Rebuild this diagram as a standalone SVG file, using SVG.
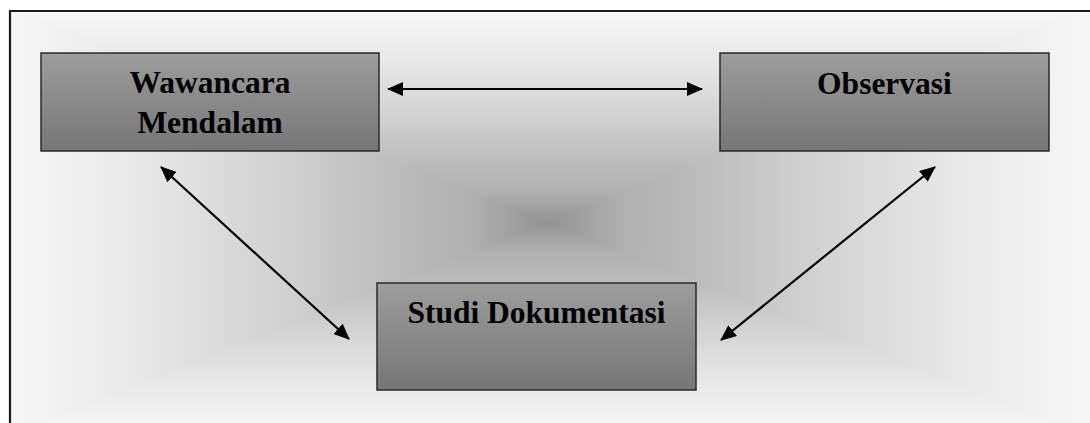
<svg xmlns="http://www.w3.org/2000/svg" width="1090" height="423" viewBox="0 0 1090 423">
  <defs>
    <linearGradient id="gTop" gradientUnits="userSpaceOnUse" x1="0" y1="11" x2="0" y2="222">
      <stop offset="0" stop-color="#f7f7f7"/><stop offset="0.24" stop-color="#e8e8e8"/><stop offset="0.5" stop-color="#d2d2d2"/><stop offset="0.7" stop-color="#bebebe"/><stop offset="0.86" stop-color="#b0b0b0"/><stop offset="1" stop-color="#939393"/>
    </linearGradient>
    <linearGradient id="gBot" gradientUnits="userSpaceOnUse" x1="0" y1="433" x2="0" y2="222">
      <stop offset="0" stop-color="#f7f7f7"/><stop offset="0.24" stop-color="#e8e8e8"/><stop offset="0.5" stop-color="#d2d2d2"/><stop offset="0.7" stop-color="#bebebe"/><stop offset="0.86" stop-color="#b0b0b0"/><stop offset="1" stop-color="#939393"/>
    </linearGradient>
    <linearGradient id="gLeft" gradientUnits="userSpaceOnUse" x1="10" y1="0" x2="547" y2="0">
      <stop offset="0" stop-color="#f7f7f7"/><stop offset="0.24" stop-color="#e8e8e8"/><stop offset="0.5" stop-color="#d2d2d2"/><stop offset="0.7" stop-color="#bebebe"/><stop offset="0.86" stop-color="#b0b0b0"/><stop offset="1" stop-color="#939393"/>
    </linearGradient>
    <linearGradient id="gRight" gradientUnits="userSpaceOnUse" x1="1084" y1="0" x2="547" y2="0">
      <stop offset="0" stop-color="#f7f7f7"/><stop offset="0.24" stop-color="#e8e8e8"/><stop offset="0.5" stop-color="#d2d2d2"/><stop offset="0.7" stop-color="#bebebe"/><stop offset="0.86" stop-color="#b0b0b0"/><stop offset="1" stop-color="#939393"/>
    </linearGradient>
    <linearGradient id="boxFill" x1="0" y1="0" x2="0" y2="1">
      <stop offset="0" stop-color="#9d9d9d"/><stop offset="1" stop-color="#767676"/>
    </linearGradient>
    <marker id="ah" viewBox="0 0 16 14" refX="15" refY="7" markerWidth="16" markerHeight="14" markerUnits="userSpaceOnUse" orient="auto-start-reverse">
      <path d="M0,0 L16,7 L0,14 Z" fill="#000"/>
    </marker>
    <style>
      .box { fill: url(#boxFill); stroke: #2a2a2a; stroke-width: 1.5; }
      .lbl { font-family: "Liberation Serif", "Times New Roman", serif; font-weight: bold; font-size: 31.5px; fill: #000; text-anchor: middle; }
      .conn { stroke: #000; stroke-width: 2.2; fill: none; marker-start: url(#ah); marker-end: url(#ah); }
      .tri { stroke-width: 1.5; stroke-linejoin: round; }
    </style>
  </defs>

  <rect x="0" y="0" width="1090" height="423" fill="#ffffff"/>

  <g id="background">
    <rect x="10" y="11" width="1090" height="430" fill="#cfcfcf"/>
    <polygon class="tri" points="10,11 1084,11 547,222" fill="url(#gTop)" stroke="url(#gTop)"/>
    <polygon class="tri" points="10,433 1084,433 547,222" fill="url(#gBot)" stroke="url(#gBot)"/>
    <polygon class="tri" points="10,11 10,433 547,222" fill="url(#gLeft)" stroke="url(#gLeft)"/>
    <polygon class="tri" points="1084,11 1084,433 547,222" fill="url(#gRight)" stroke="url(#gRight)"/>
    <rect x="1084" y="11" width="20" height="430" fill="#f7f7f7"/>
    <polyline points="10,440 10,11 1100,11" fill="none" stroke="#1a1a1a" stroke-width="2.2"/>
  </g>

  <g id="node-wawancara">
    <rect class="box" x="41" y="53" width="338" height="98"/>
    <text class="lbl" x="210" y="93">Wawancara</text>
    <text class="lbl" x="210" y="133">Mendalam</text>
  </g>

  <g id="node-observasi">
    <rect class="box" x="720" y="53" width="329" height="98"/>
    <text class="lbl" x="884.5" y="94">Observasi</text>
  </g>

  <g id="node-studi">
    <rect class="box" x="377" y="283" width="319" height="107"/>
    <text class="lbl" x="536.5" y="323">Studi Dokumentasi</text>
  </g>

  <g id="connectors">
    <line class="conn" x1="388" y1="89" x2="702" y2="89"/>
    <line class="conn" x1="161" y1="167" x2="349" y2="339"/>
    <line class="conn" x1="935" y1="167" x2="721" y2="340"/>
  </g>
</svg>
